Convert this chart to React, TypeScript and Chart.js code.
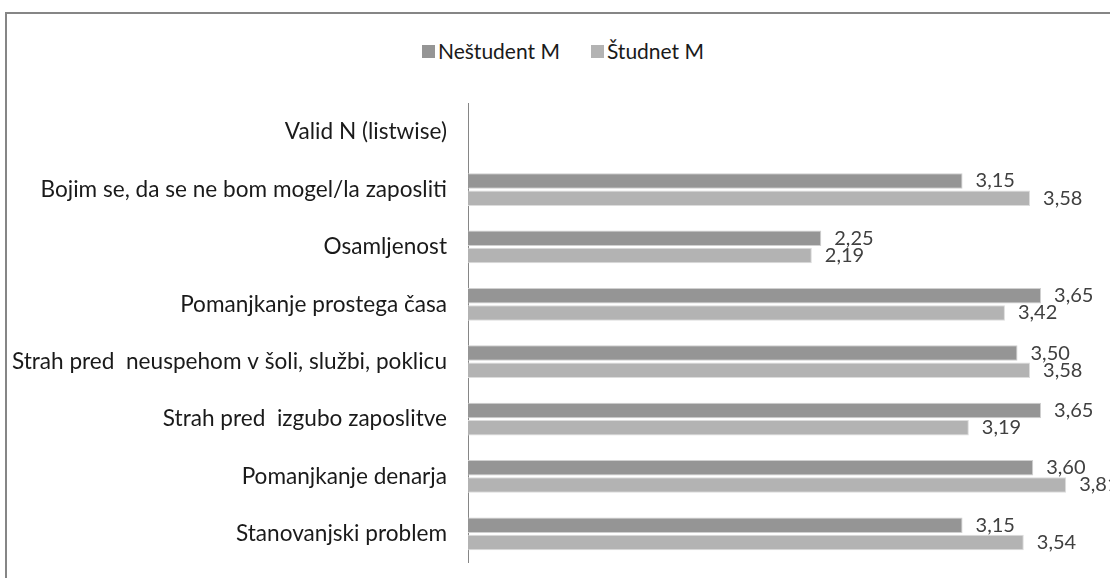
import React, { useEffect, useRef } from "react";
import { Chart, registerables } from "chart.js";

Chart.register(...registerables);

const categories = [
  "Valid N (listwise)",
  "Bojim se, da se ne bom mogel/la zaposliti",
  "Osamljenost",
  "Pomanjkanje prostega časa",
  "Strah pred  neuspehom v šoli, službi, poklicu",
  "Strah pred  izgubo zaposlitve",
  "Pomanjkanje denarja",
  "Stanovanjski problem",
];
const seriesNames = ["Neštudent M", "Študnet M"];
const nestudentValues = [null, 3.15, 2.25, 3.65, 3.5, 3.65, 3.6, 3.15];
const studentValues = [null, 3.58, 2.19, 3.42, 3.58, 3.19, 3.81, 3.54];
const seriesColors = ["#959595", "#b3b3b3"];
const xMin = 0;
const xMax = 4;

const FONT = "Lato, 'Open Sans', sans-serif";

const valueLabels = {
  id: "valueLabels",
  afterDatasetsDraw(chart: any) {
    const ctx = chart.ctx;
    ctx.save();
    ctx.font = `20px ${FONT}`;
    ctx.fillStyle = "#404040";
    ctx.textAlign = "left";
    ctx.textBaseline = "middle";
    chart.data.datasets.forEach((ds: any, di: number) => {
      const meta = chart.getDatasetMeta(di);
      meta.data.forEach((bar: any, i: number) => {
        const v = ds.data[i];
        if (v === null || v === undefined) return;
        const txt = v.toFixed(2).replace(".", ",");
        ctx.fillText(txt, bar.x + 13, bar.y);
      });
    });
    ctx.restore();
  },
};

export default function App() {
  const ref = useRef<HTMLCanvasElement | null>(null);

  useEffect(() => {
    if (!ref.current) return;
    const chart = new Chart(ref.current, {
      type: "bar",
      data: {
        labels: categories,
        datasets: [
          {
            label: seriesNames[0],
            data: nestudentValues as any,
            backgroundColor: seriesColors[0],
            borderColor: "#d0d0d0",
            borderWidth: 1,
            categoryPercentage: 0.6,
            barPercentage: 0.9,
          },
          {
            label: seriesNames[1],
            data: studentValues as any,
            backgroundColor: seriesColors[1],
            borderColor: "#dcdcdc",
            borderWidth: 1,
            categoryPercentage: 0.6,
            barPercentage: 0.9,
          },
        ],
      },
      options: {
        indexAxis: "y",
        responsive: false,
        animation: false,
        layout: { padding: { top: 103.5, bottom: 15.5, left: 0, right: 14 } },
        plugins: {
          legend: { display: false },
          tooltip: { enabled: false },
        },
        scales: {
          x: { display: false, min: xMin, max: xMax },
          y: {
            afterFit: (scale: any) => {
              scale.width = 468;
              scale.paddingTop = 0;
              scale.paddingBottom = 0;
            },
            grid: { display: true, drawOnChartArea: false, drawTicks: false },
            border: { display: true, color: "#868686", width: 1 },
            ticks: {
              padding: 21,
              color: "#1a1a1a",
              font: { family: FONT, size: 22.6 },
            },
          },
        },
      },
      plugins: [valueLabels],
    });
    return () => chart.destroy();
  }, []);

  return (
    <div
      style={{
        position: "fixed",
        left: 0,
        top: 0,
        width: 1110,
        height: 578,
        overflow: "hidden",
        background: "#fff",
      }}
    >
      <div
        style={{
          position: "absolute",
          left: 5,
          top: 12,
          width: 1200,
          height: 700,
          border: "2px solid #868686",
          boxSizing: "border-box",
        }}
      />
      <div
        style={{
          position: "absolute",
          left: 0,
          top: 38,
          width: 1126,
          display: "flex",
          justifyContent: "center",
          gap: 31,
          fontFamily: FONT,
          fontSize: 21,
          color: "#1a1a1a",
          lineHeight: "26px",
        }}
      >
        {seriesNames.map((n, i) => (
          <div key={n} style={{ display: "flex", alignItems: "center" }}>
            <span
              style={{
                display: "inline-block",
                width: 13,
                height: 13,
                background: seriesColors[i],
                marginRight: 3,
              }}
            />
            <span>{n}</span>
          </div>
        ))}
      </div>
      <canvas
        ref={ref}
        width={1110}
        height={578}
        style={{ position: "absolute", left: 0, top: 0 }}
      />
    </div>
  );
}
